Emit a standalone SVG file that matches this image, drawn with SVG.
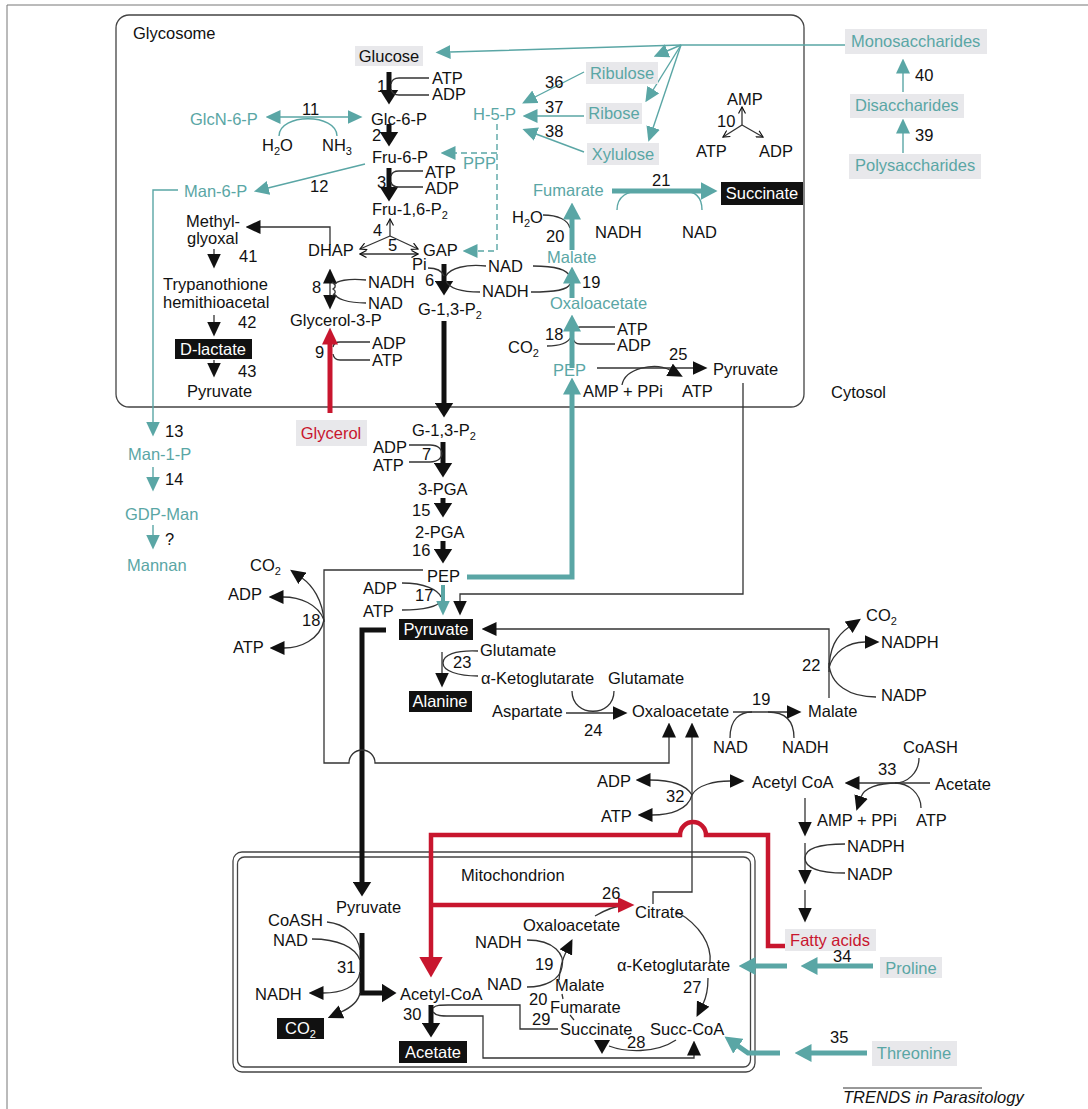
<svg xmlns="http://www.w3.org/2000/svg" width="1088" height="1109" viewBox="0 0 1088 1109">
<style>
text{font-family:"Liberation Sans",Arial,Helvetica,sans-serif;font-size:16.5px;fill:#111}
.tl{fill:#5aa6a5}
.rd{fill:#c8162e}
.wh{fill:#fff}
.m{text-anchor:middle}
.sub{font-size:11px}
.box{fill:#e8e8eb}
.blk{fill:#111}
.ln{fill:none;stroke:#333;stroke-width:1.3}
.lt{fill:none;stroke:#5aa6a5;stroke-width:1.4}
.thk{fill:none;stroke:#111;stroke-width:5}
.tk{fill:none;stroke:#5aa6a5;stroke-width:5}
.rk{fill:none;stroke:#c8162e;stroke-width:4.5}
.ds{stroke-dasharray:6 4}
</style>
<defs>
<marker id="ab" viewBox="0 0 15 14" refX="0.5" refY="7" markerWidth="15" markerHeight="14" markerUnits="userSpaceOnUse" orient="auto-start-reverse"><path d="M0,0L15,7L0,14z" fill="#111"/></marker>
<marker id="abk" viewBox="0 0 15 19" refX="0.5" refY="9.5" markerWidth="15" markerHeight="19" markerUnits="userSpaceOnUse" orient="auto-start-reverse"><path d="M0,0L15,9.5L0,19z" fill="#111"/></marker>
<marker id="at" viewBox="0 0 15 14" refX="0.5" refY="7" markerWidth="15" markerHeight="14" markerUnits="userSpaceOnUse" orient="auto-start-reverse"><path d="M0,0L15,7L0,14z" fill="#5aa6a5"/></marker>
<marker id="atk" viewBox="0 0 17 18" refX="0.5" refY="9" markerWidth="17" markerHeight="18" markerUnits="userSpaceOnUse" orient="auto-start-reverse"><path d="M0,0L17,9L0,18z" fill="#5aa6a5"/></marker>
<marker id="ar" viewBox="0 0 21 24" refX="0.5" refY="12" markerWidth="21" markerHeight="24" markerUnits="userSpaceOnUse" orient="auto-start-reverse"><path d="M0,0L21,12L0,24z" fill="#c8162e"/></marker>
<marker id="ar2" viewBox="0 0 17 16" refX="0.5" refY="8" markerWidth="17" markerHeight="16" markerUnits="userSpaceOnUse" orient="auto-start-reverse"><path d="M0,0L17,8L0,16z" fill="#c8162e"/></marker>
<marker id="ac" viewBox="0 0 8 8" refX="7" refY="4" markerWidth="8" markerHeight="8" markerUnits="userSpaceOnUse" orient="auto-start-reverse"><path d="M0.5,0.5L7,4L0.5,7.5" fill="none" stroke="#111" stroke-width="1.2"/></marker>
</defs>

<path d="M7,1109V5H1088" fill="none" stroke="#777" stroke-width="1"/>

<g id="compartments">
<g id="glycosome"><rect x="116" y="15" width="688" height="392" rx="13" fill="none" stroke="#444" stroke-width="1.3"/><text x="133" y="39">Glycosome</text></g>
<g id="cytosol"><text x="831" y="398">Cytosol</text></g>
<g id="mitochondrion"><rect x="233" y="852" width="522" height="220" rx="9" fill="none" stroke="#444" stroke-width="1.3"/><rect x="237.5" y="857" width="513" height="210" rx="7" fill="none" stroke="#444" stroke-width="1.3"/><text x="461" y="881">Mitochondrion</text></g>
</g>

<g id="connectors">
<!-- thick black -->
<path class="thk" marker-end="url(#abk)" d="M389,72V90"/>
<path class="thk" marker-end="url(#abk)" d="M389,124V132"/>
<path class="thk" marker-end="url(#abk)" d="M389,168V187"/>
<path class="thk" marker-end="url(#abk)" d="M444,264V281"/>
<path class="thk" marker-end="url(#abk)" d="M444,321V403"/>
<path class="thk" marker-end="url(#abk)" d="M443,442V463"/>
<path class="thk" marker-end="url(#abk)" d="M443,498V503"/>
<path class="thk" marker-end="url(#abk)" d="M443,541V549"/>
<path class="thk" marker-end="url(#abk)" d="M386,630H362V882"/>
<path class="thk" marker-end="url(#abk)" d="M362,933V993H382"/>
<path class="thk" marker-end="url(#abk)" d="M431,1005V1023"/>
<!-- thin black -->
<path class="ln" marker-end="url(#ab)" d="M330,245V227H260"/>
<path class="ln" marker-end="url(#ab)" d="M214,249V254"/>
<path class="ln" marker-end="url(#ab)" d="M214,315V322"/>
<path class="ln" marker-end="url(#ab)" d="M214,360V363"/>
<path class="ln" marker-end="url(#ab)" d="M330,289V283"/>
<path class="ln" marker-end="url(#ab)" d="M330,289V295"/>
<path class="ln" d="M332,282Q338,286 333,289Q338,292 332,296"/>
<path class="ln" d="M366,280C348,278 336,281 334,285"/>
<path class="ln" d="M334,293C336,299 348,303 366,303"/>
<path class="ln" d="M429,78H399Q392,78 391,84"/>
<path class="ln" d="M391,89Q392,95 399,95H429"/>
<path class="ln" d="M423,171H399Q392,171 391,176"/>
<path class="ln" d="M391,182Q392,187 399,187H423"/>
<path class="ln" d="M370,342H340Q334,342 333,347"/>
<path class="ln" d="M333,354Q334,360 340,360H370"/>
<path class="ln" d="M428,268C437,268 442,271 444,276"/>
<path class="ln" d="M486,266C466,264 450,268 446,276"/>
<path class="ln" d="M446,281C450,290 464,292 480,292"/>
<path class="ln" d="M533,266C556,266 568,270 570,277"/>
<path class="ln" d="M531,292C556,292 568,290 570,284"/>
<path class="ln" d="M543,215C558,215 568,220 570,228"/>
<path class="ln" d="M615,327H580Q574,327 573,333"/>
<path class="ln" d="M573,338Q574,344 580,344H615"/>
<path class="ln" d="M547,346C560,346 568,343 571,337"/>
<path class="ln" marker-end="url(#ab)" d="M597,368H693"/>
<path class="ln" marker-end="url(#ab)" d="M622,385C625,368 655,362 670,370"/>
<path class="ln" marker-end="url(#ab)" d="M743,383V594H460V601"/>
<path class="ln" d="M409,445H430C439,445 442,450 442,453.5C442,457 439,462 430,462H409"/>
<path class="ln" marker-end="url(#ab)" d="M423,570H324V763H349A13,13 0 0 1 375,763H669V737"/>
<path class="ln" marker-end="url(#ab)" d="M653,904V892H692V737"/>
<path class="ln" marker-end="url(#ab)" d="M324,622C323,600 312,585 302,578"/>
<path class="ln" marker-end="url(#ab)" d="M324,620C318,604 300,597 283,597"/>
<path class="ln" marker-end="url(#ab)" d="M324,620C320,640 300,648 284,648"/>
<path class="ln" d="M402,583C425,583 438,590 441,597"/>
<path class="ln" d="M402,610C425,610 438,606 441,601"/>
<path class="ln" marker-end="url(#ab)" d="M829,698V629H496"/>
<path class="ln" marker-end="url(#ab)" d="M442,652V673"/>
<path class="ln" d="M478,651C455,650 443,655 443,663C443,671 458,676 478,676"/>
<path class="ln" marker-end="url(#ab)" d="M566,713H613"/>
<path class="ln" d="M572,691C572,718 614,718 614,691"/>
<path class="ln" marker-end="url(#ab)" d="M733,712H787"/>
<path class="ln" d="M730,738C730,719 740,712 752,712"/>
<path class="ln" d="M768,712C784,712 794,719 794,738"/>
<path class="ln" marker-end="url(#ab)" d="M829,672C829,648 836,636 849,627"/>
<path class="ln" marker-end="url(#ab)" d="M829,668C833,652 848,642 865,642"/>
<path class="ln" d="M876,697C850,697 830,685 829,663"/>
<path class="ln" marker-end="url(#ab)" d="M692,795C685,783 666,780 650,780"/>
<path class="ln" marker-end="url(#ab)" d="M692,795C688,810 670,815 652,815"/>
<path class="ln" marker-end="url(#ab)" d="M692,795C697,785 715,781 730,781"/>
<path class="ln" marker-end="url(#ab)" d="M930,783H859"/>
<path class="ln" d="M919,758C919,773 907,783 895,783"/>
<path class="ln" d="M921,808C921,793 908,783 895,783"/>
<path class="ln" marker-end="url(#ab)" d="M897,783C878,783 864,788 861,797"/>
<path class="ln" marker-end="url(#ab)" d="M805,798V822"/>
<path class="ln" marker-end="url(#ab)" d="M805,843V870"/>
<path class="ln" marker-end="url(#ab)" d="M805,890V908"/>
<path class="ln" d="M845,844C815,844 805,850 805,858C805,866 815,873 845,873"/>
<path class="ln" d="M327,922C345,924 358,935 360,950"/>
<path class="ln" d="M312,939C338,939 355,947 360,960"/>
<path class="ln" marker-end="url(#ab)" d="M360,972C358,988 340,993 323,993"/>
<path class="ln" marker-end="url(#ab)" d="M360,993C358,1003 350,1008 341,1012"/>
<path class="ln" d="M433,1008C436,1005 440,1005 448,1005H520V1029H558"/>
<path class="ln" marker-end="url(#ab)" d="M433,1012C436,1016 442,1016 450,1016H483V1058H694V1055"/>
<path class="ln" d="M527,940C555,940 565,955 562,967C560,980 545,987 527,987"/>
<path class="ln" marker-end="url(#ab)" d="M559,980C560,968 562,960 566,952"/>
<path class="ln" d="M562,994L563,999"/>
<path class="ln" d="M570,1015L574,1020"/>
<path class="ln" d="M595,916C605,910 615,906 626,905"/>
<path class="ln" d="M677,912C700,925 712,945 710,963"/>
<path class="ln" marker-end="url(#ab)" d="M708,978C708,990 706,998 703,1004"/>
<path class="ln" d="M676,1040C655,1054 625,1052 609,1046"/>
<polygon points="594,1040 610,1040 602,1054" fill="#111"/>
<!-- chevrons -->
<path class="ln" marker-end="url(#ac)" d="M390,236V219"/>
<path class="ln" marker-end="url(#ac)" d="M390,236L360,249"/>
<path class="ln" marker-end="url(#ac)" d="M390,236L418,249"/>
<path class="ln" marker-start="url(#ac)" marker-end="url(#ac)" d="M360,254H418"/>
<path class="ln" marker-end="url(#ac)" d="M742,125V107"/>
<path class="ln" marker-end="url(#ac)" d="M742,125L723,137"/>
<path class="ln" marker-end="url(#ac)" d="M742,125L763,137"/>
<!-- teal thin -->
<path class="lt" marker-start="url(#at)" marker-end="url(#at)" d="M280,117H348"/>
<path class="lt" d="M279,136C279,113 337,113 337,136"/>
<path class="lt" marker-end="url(#at)" d="M365,164L268,188"/>
<path class="lt" marker-end="url(#at)" d="M178,190H153V422"/>
<path class="lt" marker-end="url(#at)" d="M153,467V477"/>
<path class="lt" marker-end="url(#at)" d="M153,525V535"/>
<path class="lt" marker-end="url(#at)" d="M845,45H681L450,52"/>
<path class="lt" marker-end="url(#at)" d="M681,45L667,51"/>
<path class="lt" marker-end="url(#at)" d="M681,45L653,90"/>
<path class="lt" marker-end="url(#at)" d="M681,45L653,128"/>
<path class="lt" marker-end="url(#at)" d="M584,72L535,97"/>
<path class="lt" marker-end="url(#at)" d="M584,116H537"/>
<path class="lt" marker-end="url(#at)" d="M584,152L536,134"/>
<path class="lt" marker-end="url(#at)" d="M903,92V73"/>
<path class="lt" marker-end="url(#at)" d="M903,153V133"/>
<path class="lt" d="M617,210C617,196 628,191 640,191"/>
<path class="lt" d="M683,191C695,191 702,197 702,210"/>
<path class="lt ds" marker-end="url(#at)" d="M497,124V251H477"/>
<path class="lt ds" marker-end="url(#at)" d="M497,153H455"/>
<!-- teal thick -->
<path class="tk" marker-end="url(#atk)" d="M612,191H701"/>
<path class="tk" marker-end="url(#atk)" d="M572,250V219"/>
<path class="tk" marker-end="url(#atk)" d="M572,298V283"/>
<path class="tk" marker-end="url(#atk)" d="M572,368V331"/>
<path class="tk" marker-end="url(#atk)" d="M467,577H572V394"/>
<path class="tk" style="stroke-width:4" marker-end="url(#at)" d="M443,585V601"/>
<path class="tk" marker-end="url(#atk)" d="M787,966H755"/>
<path class="tk" marker-end="url(#atk)" d="M873,966H817"/>
<path class="tk" marker-end="url(#atk)" d="M867,1053H811"/>
<path class="tk" marker-end="url(#atk)" d="M780,1053H748L738,1046"/>
<!-- red -->
<path class="rk" marker-end="url(#ar)" d="M785,946H768V835H706A13,13 0 0 0 680,835H431V957"/>
<path class="rk" marker-end="url(#ar2)" d="M431,905H618"/>
<path class="rk" style="stroke-width:5" marker-end="url(#ar2)" d="M330,413V344"/>
</g>

<g id="nodes">
<g id="glucose"><rect class="box" x="355" y="46" width="68" height="20"/><text class="m" x="389" y="62">Glucose</text></g>
<g id="glc6p"><text x="371" y="125">Glc-6-P</text></g>
<g id="glcn6p"><text class="tl" x="190" y="125">GlcN-6-P</text></g>
<g id="fru6p"><text x="372" y="163">Fru-6-P</text></g>
<g id="man6p"><text class="tl" x="184" y="197">Man-6-P</text></g>
<g id="fru16p2"><text x="372" y="215">Fru-1,6-P<tspan class="sub" dy="4">2</tspan></text></g>
<g id="methylglyoxal"><text x="186" y="227">Methyl-</text><text x="187" y="244">glyoxal</text></g>
<g id="dhap"><text x="308" y="256">DHAP</text></g>
<g id="gap"><text x="423" y="256">GAP</text></g>
<g id="trypanothione"><text x="163" y="290">Trypanothione</text><text x="163" y="308">hemithioacetal</text></g>
<g id="dlactate"><rect class="blk" x="175" y="339" width="77" height="20"/><text class="m wh" x="213" y="355">D-lactate</text></g>
<g id="pyruvate-g1"><text x="187" y="397">Pyruvate</text></g>
<g id="glycerol3p"><text x="290" y="326">Glycerol-3-P</text></g>
<g id="g13p2-g"><text x="418" y="315">G-1,3-P<tspan class="sub" dy="4">2</tspan></text></g>
<g id="h5p"><text class="tl" x="473" y="120">H-5-P</text></g>
<g id="ppp"><text class="tl" x="463" y="169">PPP</text></g>
<g id="ribulose"><rect class="box" x="586" y="62" width="72" height="22"/><text class="m tl" x="622" y="79">Ribulose</text></g>
<g id="ribose"><rect class="box" x="586" y="103" width="56" height="21"/><text class="m tl" x="614" y="119">Ribose</text></g>
<g id="xylulose"><rect class="box" x="587" y="143" width="72" height="22"/><text class="m tl" x="623" y="160">Xylulose</text></g>
<g id="fumarate-g"><text class="tl" x="533" y="196">Fumarate</text></g>
<g id="succinate-g"><rect class="blk" x="721" y="182" width="82" height="23"/><text class="m wh" x="762" y="199">Succinate</text></g>
<g id="malate-g"><text class="tl" x="547" y="263">Malate</text></g>
<g id="oaa-g"><text class="tl" x="550" y="309">Oxaloacetate</text></g>
<g id="pep-g"><text class="tl" x="553" y="376">PEP</text></g>
<g id="pyruvate-g2"><text x="713" y="375">Pyruvate</text></g>
<g id="monosaccharides"><rect class="box" x="845" y="29" width="142" height="25"/><text class="tl" x="851" y="47">Monosaccharides</text></g>
<g id="disaccharides"><rect class="box" x="850" y="94" width="114" height="24"/><text class="tl" x="855" y="111">Disaccharides</text></g>
<g id="polysaccharides"><rect class="box" x="849" y="154" width="132" height="25"/><text class="tl" x="855" y="171">Polysaccharides</text></g>
<g id="glycerol"><rect class="box" x="296" y="420" width="71" height="26"/><text class="m rd" x="331" y="439">Glycerol</text></g>
<g id="man1p"><text class="tl" x="128" y="460">Man-1-P</text></g>
<g id="gdpman"><text class="tl" x="125" y="520">GDP-Man</text></g>
<g id="mannan"><text class="tl" x="127" y="571">Mannan</text></g>
<g id="g13p2-c"><text x="412" y="436">G-1,3-P<tspan class="sub" dy="4">2</tspan></text></g>
<g id="pga3"><text x="418" y="495">3-PGA</text></g>
<g id="pga2"><text x="415" y="538">2-PGA</text></g>
<g id="pep-c"><text x="427" y="582">PEP</text></g>
<g id="pyruvate-c"><rect class="blk" x="399" y="619" width="74" height="21"/><text class="m wh" x="436" y="635">Pyruvate</text></g>
<g id="alanine"><rect class="blk" x="409" y="691" width="63" height="21"/><text class="m wh" x="440" y="707">Alanine</text></g>
<g id="glutamate1"><text x="480" y="656">Glutamate</text></g>
<g id="akg-c"><text x="481" y="684">α-Ketoglutarate</text></g>
<g id="glutamate2"><text x="608" y="684">Glutamate</text></g>
<g id="aspartate"><text x="492" y="717">Aspartate</text></g>
<g id="oaa-c"><text x="632" y="717">Oxaloacetate</text></g>
<g id="malate-c"><text x="808" y="717">Malate</text></g>
<g id="acetylcoa-c"><text x="752" y="788">Acetyl CoA</text></g>
<g id="acetate-c"><text x="935" y="790">Acetate</text></g>
<g id="fattyacids"><rect class="box" x="785" y="929" width="91" height="22"/><text class="m rd" x="830" y="946">Fatty acids</text></g>
<g id="proline"><rect class="box" x="880" y="957" width="62" height="21"/><text class="m tl" x="911" y="974">Proline</text></g>
<g id="threonine"><rect class="box" x="872" y="1041" width="85" height="25"/><text class="m tl" x="914" y="1059">Threonine</text></g>
<g id="pyruvate-m"><text x="336" y="913">Pyruvate</text></g>
<g id="acetylcoa-m"><text x="400" y="1000">Acetyl-CoA</text></g>
<g id="co2-m"><rect class="blk" x="277" y="1018" width="47" height="21"/><text class="wh" x="285" y="1034">CO<tspan class="sub" dy="4">2</tspan></text></g>
<g id="acetate-m"><rect class="blk" x="399" y="1041" width="68" height="22"/><text class="m wh" x="433" y="1058">Acetate</text></g>
<g id="citrate"><text x="635" y="918">Citrate</text></g>
<g id="oaa-m"><text x="523" y="931">Oxaloacetate</text></g>
<g id="malate-m"><text x="555" y="991">Malate</text></g>
<g id="fumarate-m"><text x="550" y="1013">Fumarate</text></g>
<g id="succinate-m"><text x="560" y="1035">Succinate</text></g>
<g id="akg-m"><text x="617" y="971">α-Ketoglutarate</text></g>
<g id="succcoa"><text x="650" y="1035">Succ-CoA</text></g>
</g>

<g id="labels">
<text x="432" y="84">ATP</text><text x="432" y="100">ADP</text><text x="377" y="92">1</text>
<text x="302" y="115">11</text>
<text x="262" y="151">H<tspan class="sub" dy="4">2</tspan><tspan dy="-4">O</tspan></text>
<text x="322" y="151">NH<tspan class="sub" dy="4">3</tspan></text>
<text x="372" y="141">2</text>
<text x="377" y="188">3</text><text x="425" y="178">ATP</text><text x="425" y="194">ADP</text>
<text x="310" y="192">12</text>
<text x="239" y="262">41</text><text x="238" y="328">42</text><text x="238" y="377">43</text>
<text x="373" y="236">4</text><text x="388" y="251">5</text>
<text x="412" y="270">Pi</text><text x="425" y="286">6</text>
<text x="488" y="272">NAD</text><text x="482" y="297">NADH</text>
<text x="312" y="293">8</text><text x="368" y="288">NADH</text><text x="368" y="309">NAD</text>
<text x="315" y="358">9</text><text x="372" y="349">ADP</text><text x="372" y="366">ATP</text>
<text x="545" y="88">36</text><text x="545" y="113">37</text><text x="545" y="137">38</text>
<text x="727" y="105">AMP</text><text x="717" y="127">10</text><text x="696" y="157">ATP</text><text x="759" y="157">ADP</text>
<text x="652" y="186">21</text><text x="595" y="238">NADH</text><text x="682" y="238">NAD</text>
<text x="512" y="223">H<tspan class="sub" dy="4">2</tspan><tspan dy="-4">O</tspan></text><text x="546" y="242">20</text>
<text x="582" y="288">19</text>
<text x="545" y="340">18</text><text x="617" y="335">ATP</text><text x="617" y="351">ADP</text>
<text x="508" y="353">CO<tspan class="sub" dy="4">2</tspan></text>
<text x="669" y="360">25</text><text x="583" y="397">AMP + PPi</text><text x="682" y="397">ATP</text>
<text x="915" y="81">40</text><text x="915" y="141">39</text>
<text x="165" y="437">13</text><text x="165" y="485">14</text><text x="165" y="545">?</text>
<text x="373" y="453">ADP</text><text x="373" y="471">ATP</text><text x="422" y="460">7</text>
<text x="412" y="516">15</text><text x="412" y="556">16</text>
<text x="250" y="571">CO<tspan class="sub" dy="4">2</tspan></text><text x="228" y="600">ADP</text><text x="233" y="653">ATP</text><text x="302" y="626">18</text>
<text x="363" y="594">ADP</text><text x="363" y="617">ATP</text><text x="415" y="601">17</text>
<text x="453" y="668">23</text><text x="584" y="736">24</text>
<text x="752" y="705">19</text><text x="713" y="753">NAD</text><text x="782" y="753">NADH</text>
<text x="802" y="671">22</text><text x="866" y="621">CO<tspan class="sub" dy="4">2</tspan></text><text x="881" y="648">NADPH</text><text x="881" y="701">NADP</text>
<text x="597" y="787">ADP</text><text x="601" y="822">ATP</text><text x="666" y="802">32</text>
<text x="878" y="775">33</text><text x="903" y="753">CoASH</text><text x="817" y="826">AMP + PPi</text><text x="916" y="826">ATP</text>
<text x="847" y="852">NADPH</text><text x="847" y="880">NADP</text>
<text x="833" y="962">34</text><text x="830" y="1043">35</text>
<text x="268" y="926">CoASH</text><text x="273" y="946">NAD</text><text x="337" y="973">31</text><text x="255" y="1000">NADH</text>
<text x="403" y="1020">30</text><text x="602" y="899">26</text>
<text x="475" y="948">NADH</text><text x="535" y="970">19</text><text x="487" y="990">NAD</text>
<text x="529" y="1005">20</text><text x="532" y="1025">29</text>
<text x="683" y="993">27</text><text x="627" y="1048">28</text>
</g>

<g id="credit">
<line x1="843" y1="1088" x2="982" y2="1088" stroke="#333" stroke-width="1"/>
<text x="843" y="1103" font-style="italic" font-size="13">TRENDS in Parasitology</text>
</g>
</svg>
